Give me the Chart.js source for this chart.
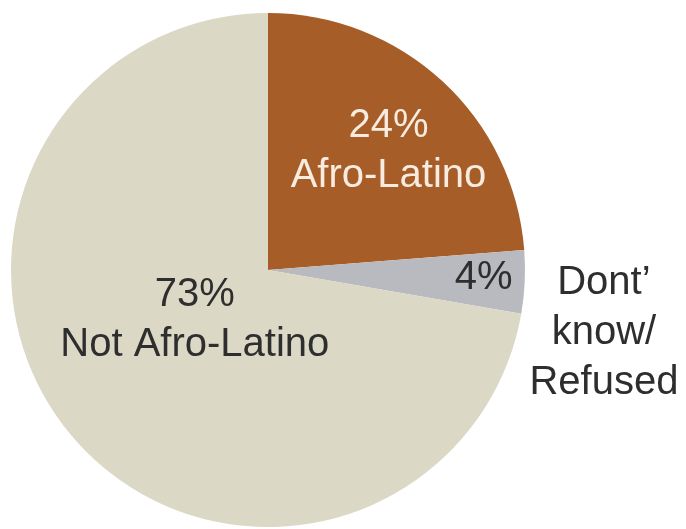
<!DOCTYPE html>
<html>
<head>
<meta charset="utf-8">
<script src="https://cdn.jsdelivr.net/npm/chart.js@4"></script>
<style>
  html, body { margin: 0; padding: 0; background: #ffffff; }
  canvas { display: block; }
</style>
</head>
<body>
<canvas id="pieChart" width="686" height="529"></canvas>
<script>
// ---- data ----
const categories = ['Afro-Latino', 'Dont’ know/Refused', 'Not Afro-Latino'];
const shares = [24, 4, 73];
const valueLabels = ['24%', '4%', '73%'];
const insideNames = [['Afro-Latino'], [], ['Not Afro-Latino']];
const outsideNames = [[], ['Dont’', 'know/', 'Refused'], []];

const sliceColors = ['#A75D27', '#B9BAC0', '#DCD8C6'];

// where each label block sits: fraction of radius + degrees added to slice middle
const insidePlace = [
  { r: 0.66, turn: 2.5, color: '#F8ECE0' },
  { r: 0.84, turn: -0.5, color: '#2e2e2e' },
  { r: 0.345, turn: 5.7, color: '#2e2e2e' }
];
const outsidePlace = { r: 1.33, turn: 8 };

const FONT = '40px "Liberation Sans", Arial, sans-serif';
const LINE_H = 50;

function drawBlock(ctx, lines, x, y, color) {
  ctx.fillStyle = color;
  const n = lines.length;
  lines.forEach((t, i) => {
    ctx.fillText(t, x, y + (i - (n - 1) / 2) * LINE_H);
  });
}

const sliceLabels = {
  id: 'sliceLabels',
  afterDatasetsDraw(chart) {
    const ctx = chart.ctx;
    const arcs = chart.getDatasetMeta(0).data;
    ctx.save();
    ctx.font = FONT;
    ctx.textAlign = 'center';
    ctx.textBaseline = 'middle';
    arcs.forEach((arc, i) => {
      const p = arc.getProps(['x', 'y', 'startAngle', 'endAngle', 'outerRadius'], true);
      const mid = (p.startAngle + p.endAngle) / 2;

      const ins = insidePlace[i];
      const a = mid + ins.turn * Math.PI / 180;
      const lines = [valueLabels[i]].concat(insideNames[i]);
      drawBlock(ctx, lines,
        p.x + Math.cos(a) * p.outerRadius * ins.r,
        p.y + Math.sin(a) * p.outerRadius * ins.r,
        ins.color);

      if (outsideNames[i].length) {
        const b = mid + outsidePlace.turn * Math.PI / 180;
        drawBlock(ctx, outsideNames[i],
          p.x + Math.cos(b) * p.outerRadius * outsidePlace.r,
          p.y + Math.sin(b) * p.outerRadius * outsidePlace.r,
          '#2e2e2e');
      }
    });
    ctx.restore();
  }
};

new Chart(document.getElementById('pieChart').getContext('2d'), {
  type: 'pie',
  data: {
    labels: categories,
    datasets: [{
      data: shares,
      backgroundColor: sliceColors,
      borderWidth: 0
    }]
  },
  options: {
    responsive: false,
    animation: false,
    layout: { padding: { left: 11, top: 13, right: 161, bottom: 2 } },
    plugins: {
      legend: { display: false },
      tooltip: { enabled: false }
    }
  },
  plugins: [sliceLabels]
});
</script>
</body>
</html>
